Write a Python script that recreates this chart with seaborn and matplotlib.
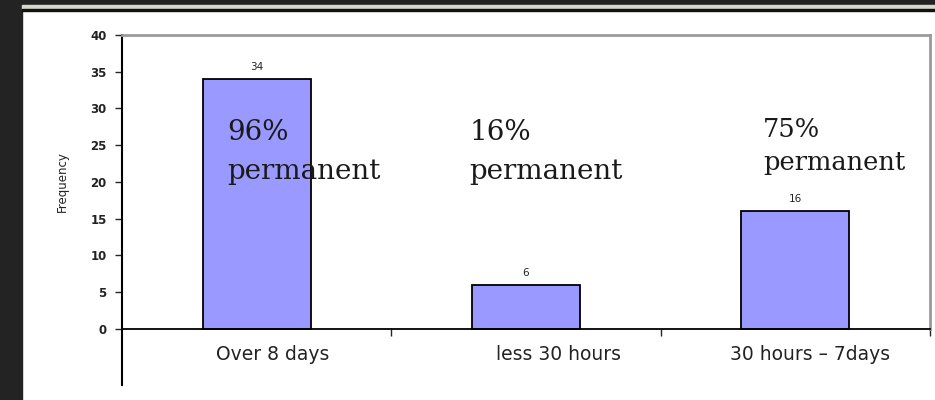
import matplotlib
matplotlib.use("Agg")
import matplotlib.pyplot as plt
import matplotlib.transforms as mtransforms
from matplotlib.patches import Rectangle
import seaborn as sns
import pandas as pd

# data
categories = ["Over 8 days", "less 30 hours", "30 hours \u2013 7days"]
frequency = [34, 6, 16]
permanent_pct = ["96%", "16%", "75%"]

df = pd.DataFrame({"duration": categories, "frequency": frequency})

sns.set_style("white")
plt.rcParams["font.family"] = ["DejaVu Sans"]

W, H = 935, 400
fig = plt.figure(figsize=(W / 100, H / 100), dpi=100)
fig.patch.set_facecolor("white")

# slide frame around the chart
fig.add_artist(Rectangle((0, 0), 22 / W, 1, transform=fig.transFigure, color="#232323", zorder=0))
fig.add_artist(Rectangle((0, 1 - 5 / H), 1, 5 / H, transform=fig.transFigure, color="#232323", zorder=0))
fig.add_artist(Rectangle((22 / W, 1 - 9 / H), 1, 4 / H, transform=fig.transFigure, color="#d8d9cc", zorder=0))
fig.add_artist(Rectangle((22 / W, 1 - 11 / H), 1, 2 / H, transform=fig.transFigure, color="#111111", zorder=0))

ax = fig.add_axes([122 / W, 15 / H, 808 / W, 350 / H])
ax.set_facecolor("none")

sns.barplot(data=df, x="duration", y="frequency", color="#9999ff", saturation=1,
            edgecolor="black", linewidth=1.3, width=0.4, ax=ax)

ax.set_xlim(-0.5, 2.5)
ax.set_ylim(-7.62, 40)

# spines: black left + zero line, grey frame top/right
ax.spines["bottom"].set_position(("data", 0))
ax.spines["bottom"].set_color("black")
ax.spines["bottom"].set_linewidth(1.3)
ax.spines["left"].set_color("black")
ax.spines["left"].set_linewidth(1.5)
for side in ["top", "right"]:
    ax.spines[side].set_color("#9a9a9a")
    ax.spines[side].set_linewidth(2)
ax.spines["right"].set_bounds(0, 40)

ax.set_yticks(range(0, 41, 5))
ax.tick_params(axis="y", direction="out", length=5, width=1, left=True, pad=6,
               labelsize=8.5, labelcolor="#222222")
for lbl in ax.get_yticklabels():
    lbl.set_fontweight("bold")

ax.set_xticks([0.5, 1.5, 2.5])
ax.set_xticklabels([])
ax.tick_params(axis="x", direction="out", length=5, width=1, bottom=True)
ax.set_xlabel("")
ax.set_ylabel("")

# category names, slightly right of the bar centres as in the source
for i, (cat, dx) in enumerate(zip(categories, [16, 33, 15])):
    ax.annotate(cat, (i, 0), xytext=(dx, -26), textcoords="offset pixels",
                ha="center", va="center", fontsize=13.5, color="#222222")

ax.text(-60 / 808, 20, "Frequency", transform=mtransforms.blended_transform_factory(ax.transAxes, ax.transData),
        rotation=90, ha="center", va="center", fontsize=8.5, color="#222222")

ax.bar_label(ax.containers[0], padding=5, fontsize=7.5, color="#222222")

# "% permanent" notes over each group
note_x = [-0.11, 0.79, 1.88]
note_y = [(26.7, 21.4), (26.7, 21.4), (27.2, 22.7)]
note_size = [20, 20, 18.5]
for x, (y1, y2), pct, fs in zip(note_x, note_y, permanent_pct, note_size):
    ax.text(x, y1, pct, ha="left", va="center", fontsize=fs, family="DejaVu Serif", color="#1a1a1a")
    ax.text(x, y2, "permanent", ha="left", va="center", fontsize=fs, family="DejaVu Serif", color="#1a1a1a")

fig.savefig("out.png", dpi=100)
